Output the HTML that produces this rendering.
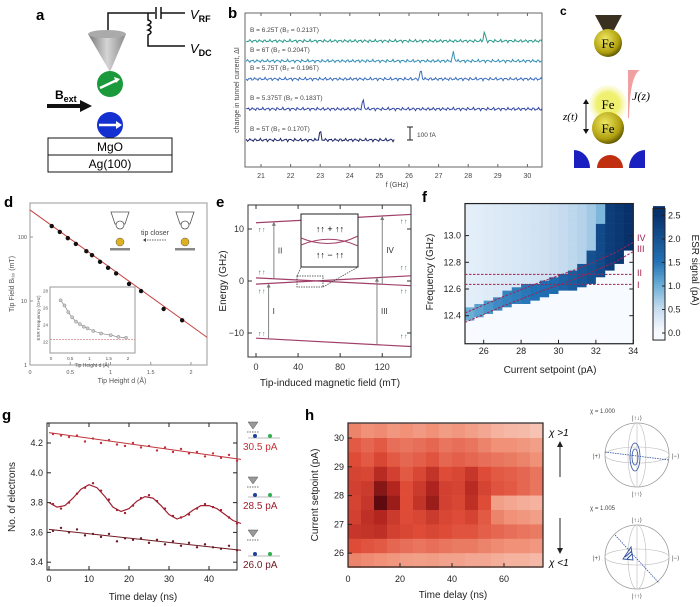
<!DOCTYPE html>
<html><head><meta charset="utf-8"><style>
html,body{margin:0;padding:0;background:#fff}
svg{display:block;font-family:"Liberation Sans",sans-serif}
</style></head><body>
<svg id="fig" width="700" height="607" viewBox="0 0 700 607" xmlns="http://www.w3.org/2000/svg">
<!-- Panel a -->
<g>
<text x="36" y="20" font-size="15" font-weight="bold">a</text>
<polyline points="108,35 108,13 155,13" fill="none" stroke="#111" stroke-width="1.5"/>
<line x1="156" y1="7" x2="156" y2="19" stroke="#111" stroke-width="1.5"/>
<line x1="161" y1="7" x2="161" y2="19" stroke="#111" stroke-width="1.5"/>
<line x1="161" y1="13" x2="185" y2="13" stroke="#111" stroke-width="1.5"/>
<path d="M148,13 L148,20 q6,2 0,5 q6,2 0,5 q6,2 0,5 L148,46 L185,46" fill="none" stroke="#111" stroke-width="1.5"/>
<text x="190" y="19" font-size="13" font-style="italic">V<tspan font-size="9" font-style="normal" font-weight="bold" dy="3">RF</tspan></text>
<text x="190" y="53" font-size="13" font-style="italic">V<tspan font-size="9" font-style="normal" font-weight="bold" dy="3">DC</tspan></text>
<defs><linearGradient id="cone" x1="0" x2="1"><stop offset="0" stop-color="#777"/><stop offset="0.5" stop-color="#d5d5d5"/><stop offset="1" stop-color="#888"/></linearGradient>
<radialGradient id="fe" cx="0.4" cy="0.35" r="0.7"><stop offset="0" stop-color="#f0e860"/><stop offset="0.7" stop-color="#b0a010"/><stop offset="1" stop-color="#504800"/></radialGradient>
<radialGradient id="glow"><stop offset="0.6" stop-color="#f0f070"/><stop offset="1" stop-color="#f8f8c0" stop-opacity="0.3"/></radialGradient></defs>
<path d="M88,34 L110,72 L126,34 Z" fill="url(#cone)"/>
<ellipse cx="107" cy="34" rx="19" ry="4" fill="#aaa"/>
<circle cx="110" cy="84" r="13" fill="#1a9a3a"/>
<line x1="100" y1="88" x2="117" y2="80" stroke="#fff" stroke-width="2.5"/><path d="M120,79 l-6,-2 l2,6z" fill="#fff"/>
<text x="55" y="99" font-size="12" font-weight="bold">B<tspan font-size="9" dy="3">ext</tspan></text>
<line x1="47" y1="106" x2="82" y2="106" stroke="#111" stroke-width="4"/><path d="M80,100 L92,106 L80,112Z" fill="#111"/>
<circle cx="110" cy="125" r="13" fill="#1530d0"/>
<line x1="99" y1="125" x2="117" y2="125" stroke="#fff" stroke-width="2.5"/><path d="M116,121 l6,4 l-6,4z" fill="#fff"/>
<rect x="48" y="138" width="124" height="17" fill="#fff" stroke="#111"/>
<rect x="48" y="155" width="124" height="17" fill="#fff" stroke="#111"/>
<text x="110" y="151" font-size="12" text-anchor="middle">MgO</text>
<text x="110" y="168" font-size="12" text-anchor="middle">Ag(100)</text>
</g>
<!-- Panel c -->
<g>
<text x="560" y="15" font-size="12" font-weight="bold">c</text>
<path d="M595,15 L622,15 L614,30 L603,30Z" fill="#3a3020"/>
<circle cx="608" cy="43" r="14" fill="url(#fe)"/><text x="608" y="48" font-size="13" text-anchor="middle" font-family="Liberation Serif">Fe</text>
<path d="M628,70 L640,70 Q630,75 629,118 L628,118Z" fill="#f0a0a0"/>
<text x="632" y="100" font-size="12" font-style="italic" font-family="Liberation Serif">J(z)</text>
<circle cx="608" cy="104" r="19" fill="url(#glow)"/>
<circle cx="608" cy="128" r="16" fill="url(#fe)"/>
<text x="608" y="109" font-size="13" text-anchor="middle" font-family="Liberation Serif">Fe</text>
<text x="608" y="133" font-size="13" text-anchor="middle" font-family="Liberation Serif">Fe</text>
<line x1="586" y1="102" x2="586" y2="131" stroke="#111"/><path d="M583,104 l3,-5 l3,5z M583,129 l3,5 l3,-5z" fill="#111"/>
<text x="563" y="120" font-size="11" font-style="italic" font-family="Liberation Serif">z(t)</text>
<path d="M574,168 L574,150 A16,18 0 0 1 590,168Z" fill="#1a20c0"/>
<path d="M597,168 A13,13 0 0 1 623,168Z" fill="#c03010"/>
<path d="M645,168 L645,150 A16,18 0 0 0 629,168Z" fill="#1a20c0"/>
</g>
<g id="charts"></g>
</svg>
<script>
// ---------- Panel b data ----------
const bLabels = ["B = 6.25T (B\u2082 = 0.213T)","B = 6T (B\u2082 = 0.204T)","B = 5.75T (B\u2082 = 0.196T)","B = 5.375T (B\u2082 = 0.183T)","B = 5T (B\u2082 = 0.170T)"];
const bPeaks = [28.55, 27.5, 26.4, 24.45, 23.0];
const bOffsets = [41, 61, 79, 109, 140];
const bEnds = [30.5, 30.5, 30.5, 30.5, 25.5];
const bColors = ["#2a9a8a","#3590b8","#3b6ec0","#3348a8","#1e2668"];
const bTicks = [21,22,23,24,25,26,27,28,29,30];
// ---------- Panel d data ----------
const dHeights = [0.27,0.37,0.47,0.57,0.70,0.77,0.87,0.97,1.07,1.23,1.38,1.66,1.89];
const dFields = [148,120,96,78,60,52,41,33,27,18.5,14.3,7.5,5.0];
const dFitEnds = [[0,265],[2.2,2.7]];
const dInsetH = [0.25,0.35,0.45,0.55,0.65,0.75,0.85,0.95,1.1,1.3,1.55,1.75,1.95];
const dInsetF = [26.9,26.3,25.5,24.9,24.4,24.1,23.8,23.6,23.3,23.0,22.8,22.6,22.5];
// ---------- Panel e data ----------
const eFieldEnds = [0,147];
const eLevelTop = [11.2, 12.8];
const eLevelMidA = [0.6, -0.9];
const eLevelMidB = [-0.6, 1.0];
const eLevelBot = [-11.0, -12.6];
const eXTicks = [0,40,80,120];
const eYTicks = [-10,0,10];
// ---------- Panel f data ----------
const fCurrents = [25.25,25.75,26.25,26.75,27.25,27.75,28.25,28.75,29.25,29.75,30.25,30.75,31.25,31.75,32.25,32.75,33.25,33.75];
const fBandLow = [12.36,12.38,12.41,12.43,12.46,12.48,12.50,12.52,12.54,12.56,12.58,12.60,12.62,12.64,12.70,12.74,12.80,12.88];
const fBandHigh = [12.47,12.49,12.52,12.55,12.58,12.61,12.63,12.65,12.67,12.69,12.71,12.73,12.80,12.90,13.10,13.30,13.30,13.30];
const fPeak = [1.0,1.1,1.2,1.3,1.35,1.4,1.45,1.5,1.55,1.6,1.7,1.8,1.9,2.0,2.1,2.3,2.4,2.5];
const fBg = [0.2,0.22,0.25,0.28,0.3,0.32,0.35,0.38,0.4,0.45,0.5,0.55,0.6,0.7,0.9,1.2,1.6,2.0];
const fCurveX = [25,27,29,31,33,34];
const fCurveIII = [12.35,12.47,12.58,12.68,12.80,12.88];
const fCurveIV = [12.42,12.54,12.65,12.75,12.87,12.95];
const fLevelI = 12.635, fLevelII = 12.71;
const fXTicks = [26,28,30,32,34];
const fYTicks = [12.4,12.6,12.8,13.0];
const fCbTicks = [0.0,0.5,1.0,1.5,2.0,2.5];
// ---------- Panel g data ----------
const gTimes = [1,3,5,7,9,11,13,15,17,19,21,23,25,27,29,31,33,35,37,39,41,43,45,47];
const gTop = [4.26,4.25,4.24,4.25,4.21,4.23,4.20,4.22,4.19,4.18,4.20,4.17,4.18,4.15,4.17,4.14,4.16,4.13,4.14,4.11,4.13,4.10,4.12,4.08];
const gMid = [3.79,3.76,3.80,3.86,3.90,3.93,3.88,3.82,3.75,3.73,3.78,3.83,3.85,3.81,3.76,3.71,3.70,3.72,3.76,3.79,3.77,3.75,3.70,3.66];
const gBot = [3.61,3.63,3.60,3.62,3.58,3.59,3.57,3.59,3.54,3.56,3.55,3.56,3.53,3.55,3.52,3.54,3.51,3.53,3.50,3.52,3.50,3.49,3.51,3.48];
const gFitTimes = [0,2,4,6,8,10,12,14,16,18,20,22,24,26,28,30,32,34,36,38,40,42,44,46,48];
const gFitMid = [3.80,3.77,3.78,3.83,3.89,3.92,3.90,3.84,3.77,3.74,3.76,3.81,3.84,3.83,3.78,3.72,3.69,3.71,3.75,3.78,3.78,3.76,3.72,3.68,3.66];
const gFitTop = [4.27,4.09];
const gFitBot = [3.62,3.48];
const gXTicks = [0,10,20,30,40];
const gYTicks = [3.4,3.6,3.8,4.0,4.2];
const gLegend = ["30.5 pA","28.5 pA","26.0 pA"];
// ---------- Panel h data ----------
const hSetpoints = [30.25,29.75,29.25,28.75,28.25,27.75,27.25,26.75,26.25,25.75];
const hTimes = [0,5,10,15,20,25,30,35,40,45,50,55,60,65,70];
const hValues = [
 [0.35,0.30,0.32,0.28,0.30,0.27,0.30,0.26,0.28,0.25,0.22,0.18,0.16,0.15,0.12],
 [0.50,0.45,0.50,0.42,0.40,0.42,0.45,0.40,0.42,0.40,0.35,0.30,0.30,0.28,0.25],
 [0.55,0.50,0.58,0.50,0.45,0.48,0.52,0.45,0.48,0.45,0.42,0.40,0.38,0.35,0.30],
 [0.60,0.58,0.75,0.62,0.50,0.58,0.70,0.55,0.58,0.68,0.55,0.50,0.48,0.45,0.40],
 [0.62,0.65,0.90,0.78,0.55,0.65,0.80,0.62,0.60,0.75,0.60,0.52,0.50,0.45,0.40],
 [0.60,0.68,1.00,0.85,0.55,0.70,0.85,0.62,0.58,0.72,0.55,0.25,0.22,0.20,0.18],
 [0.62,0.72,0.78,0.65,0.55,0.58,0.65,0.58,0.55,0.60,0.50,0.35,0.30,0.28,0.25],
 [0.68,0.70,0.72,0.62,0.58,0.55,0.58,0.55,0.52,0.52,0.48,0.45,0.42,0.40,0.38],
 [0.55,0.52,0.50,0.45,0.42,0.40,0.42,0.40,0.38,0.38,0.35,0.32,0.30,0.30,0.28],
 [0.35,0.32,0.30,0.28,0.26,0.25,0.26,0.24,0.24,0.22,0.22,0.20,0.18,0.18,0.16]];
const hXTicks = [0,20,40,60];
const hYTicks = [26,27,28,29,30];

const NS = "http://www.w3.org/2000/svg";
const root = document.getElementById('charts');
function mk(tag, attrs, parent, txt){
  const e = document.createElementNS(NS, tag);
  for (const k in attrs) e.setAttribute(k, attrs[k]);
  if (txt !== undefined) e.textContent = txt;
  (parent || root).appendChild(e);
  return e;
}
function grp(name){ const g = mk('g', {});   return g; }
function toRgb(c){ return 'rgb('+c.join(',')+')'; }
function lerpC(stops, v){
  if (v <= stops[0][0]) return toRgb(stops[0][1]);
  for (let i=1;i<stops.length;i++){ if (v <= stops[i][0]){ const a=stops[i-1], b=stops[i]; const t=(v-a[0])/(b[0]-a[0]);
    return 'rgb('+a[1].map((c,j)=>Math.round(c+(b[1][j]-c)*t)).join(',')+')'; } }
  return toRgb(stops[stops.length-1][1]);
}

// ===== Panel b =====
(function(){
  const g = grp('panel-b');
  mk('text', {x:228, y:18, 'font-size':15, 'font-weight':'bold'}, g, 'b');
  const x = f => 261 + (f-21)*29.6;
  mk('rect', {x:245, y:13, width:297, height:154, fill:'none', stroke:'#666'}, g);
  bTicks.forEach(t => {
    mk('line', {x1:x(t), x2:x(t), y1:167, y2:164, stroke:'#666'}, g);
    mk('line', {x1:x(t), x2:x(t), y1:13, y2:16, stroke:'#666'}, g);
    const tl = mk('text', {x:x(t), y:178, 'font-size':7, 'text-anchor':'middle', fill:'#444'}, g, String(t));
    
    
  });
  mk('text', {x:397, y:187, 'font-size':7, 'text-anchor':'middle', fill:'#444'}, g, 'f (GHz)');
  mk('text', {x:0, y:0, 'font-size':7, 'text-anchor':'middle', fill:'#444', transform:'translate(239,90) rotate(-90)'}, g, 'change in tunnel current, \u0394I');
  bLabels.forEach((lab, i) => {
    let d = '';
    for (let f = 20.5; f <= bEnds[i]; f += 0.04) {
      const n = Math.sin(f*37.1+i*3)*1.0 + Math.sin(f*91.7+i)*0.7;
      let yy = bOffsets[i] + n - 9*Math.exp(-Math.pow((f-bPeaks[i])/0.04,2));
      d += (d ? 'L' : 'M') + x(f).toFixed(1) + ',' + yy.toFixed(1);
    }
    const p = mk('path', {d: d, fill:'none', stroke:bColors[i], 'stroke-width':1}, g);
    
    
    mk('text', {x:250, y:bOffsets[i]-9, 'font-size':6.5, fill:'#444'}, g, lab);
  });
  mk('path', {d:'M407,127 L413,127 M410,127 L410,140 M407,140 L413,140', stroke:'#222', fill:'none'}, g);
  mk('text', {x:417, y:137, 'font-size':6.5, fill:'#444'}, g, '100 fA');
})();

// ===== Panel d =====
(function(){
  const g = grp('panel-d');
  mk('text', {x:4, y:207, 'font-size':15, 'font-weight':'bold'}, g, 'd');
  const x = h => 30 + h*80.5;
  const y = b => 365 - Math.log10(b)*64;
  mk('rect', {x:30, y:203, width:177, height:162, fill:'none', stroke:'#999'}, g);
  [0,0.5,1,1.5,2].forEach(t => {
    mk('line', {x1:x(t), x2:x(t), y1:365, y2:362, stroke:'#999'}, g);
    mk('text', {x:x(t), y:374, 'font-size':5.5, 'text-anchor':'middle', fill:'#555'}, g, String(t));
  });
  [[1,'1'],[10,'10'],[100,'100']].forEach(([v,l]) => {
    mk('line', {x1:30, x2:33, y1:y(v), y2:y(v), stroke:'#999'}, g);
    mk('text', {x:27, y:y(v)+2, 'font-size':5.5, 'text-anchor':'end', fill:'#555'}, g, l);
  });
  mk('text', {x:122, y:383, 'font-size':7, 'text-anchor':'middle', fill:'#555'}, g, 'Tip Height d (\u00C5)');
  mk('text', {x:0, y:0, 'font-size':7, 'text-anchor':'middle', fill:'#555', transform:'translate(14,284) rotate(-90)'}, g, 'Tip Field B\u209C\u1D62\u209A (mT)');
  const fit = mk('line', {x1:x(dFitEnds[0][0]), y1:y(dFitEnds[0][1]), x2:x(dFitEnds[1][0]), y2:y(dFitEnds[1][1]), stroke:'#c84040', 'stroke-width':1}, g);
  
  
  dHeights.forEach((h,i) => {
    const c = mk('circle', {cx:x(h), cy:y(dFields[i]), r:2.2, fill:'#111'}, g);
    
    
  });
  [[120,222],[185,222]].forEach(([cx,cy]) => {
    mk('path', {d:`M${cx-9},${cy-10} L${cx+9},${cy-10} L${cx+5},${cy+2} L${cx-5},${cy+2}Z`, fill:'#fff', stroke:'#555', 'stroke-width':0.8}, g);
    mk('circle', {cx:cx, cy:cy+3, r:4, fill:'#fff', stroke:'#555', 'stroke-width':0.8}, g);
    mk('circle', {cx:cx, cy:cy+20, r:4, fill:'#e0b020', stroke:'#555', 'stroke-width':0.5}, g);
    mk('rect', {x:cx-10, y:cy+26, width:20, height:2.5, fill:'#888'}, g);
  });
  mk('text', {x:155, y:235, 'font-size':7, 'text-anchor':'middle', fill:'#444'}, g, 'tip closer');
  mk('line', {x1:166, x2:146, y1:240, y2:240, stroke:'#666', 'stroke-dasharray':'1.5,1'}, g);
  mk('path', {d:'M146,238 l-3,2 l3,2z', fill:'#444'}, g);
  const ix = h => 51 + h*38.5;
  const iy = f => 291 + (28-f)*8.5;
  mk('rect', {x:50, y:287, width:85, height:66, fill:'#fff', stroke:'#999'}, g);
  [[0,'0'],[0.5,'0.5'],[1,'1'],[1.5,'1.5'],[2,'2']].forEach(([v,l]) => mk('text', {x:ix(v), y:360, 'font-size':4.5, 'text-anchor':'middle', fill:'#555'}, g, l));
  [22,24,26,28].forEach(v => mk('text', {x:48, y:iy(v)+1.5, 'font-size':4.5, 'text-anchor':'end', fill:'#555'}, g, String(v)));
  mk('text', {x:92, y:367, 'font-size':5, 'text-anchor':'middle', fill:'#555'}, g, 'Tip Height d (\u00C5)');
  mk('text', {x:0, y:0, 'font-size':4.5, 'text-anchor':'middle', fill:'#555', transform:'translate(40,318) rotate(-90)'}, g, 'ESR Frequency (GHz)');
  mk('line', {x1:50, x2:135, y1:iy(22.3), y2:iy(22.3), stroke:'#d07070', 'stroke-dasharray':'2,1', 'stroke-width':0.6}, g);
  mk('path', {d:'M'+dInsetH.map((h,i)=>ix(h).toFixed(1)+','+iy(dInsetF[i]).toFixed(1)).join('L'), fill:'none', stroke:'#777', 'stroke-width':0.6}, g);
  dInsetH.forEach((h,i) => {
    const c = mk('circle', {cx:ix(h), cy:iy(dInsetF[i]), r:1.6, fill:'#ccc', stroke:'#777', 'stroke-width':0.4}, g);
    
    
  });
})();

// ===== Panel e =====
(function(){
  const g = grp('panel-e');
  mk('text', {x:216, y:207, 'font-size':15, 'font-weight':'bold'}, g, 'e');
  const x = b => 256 + b*1.052;
  const y = e => 281 - e*5.2;
  mk('rect', {x:248, y:205, width:163, height:152, fill:'none', stroke:'#333'}, g);
  eXTicks.forEach(t => {
    mk('line', {x1:x(t), x2:x(t), y1:357, y2:353, stroke:'#333'}, g);
    mk('line', {x1:x(t), x2:x(t), y1:205, y2:209, stroke:'#333'}, g);
    mk('text', {x:x(t), y:370, 'font-size':9, 'text-anchor':'middle', fill:'#333'}, g, String(t));
  });
  eYTicks.forEach(t => {
    mk('line', {x1:248, x2:252, y1:y(t), y2:y(t), stroke:'#333'}, g);
    mk('line', {x1:411, x2:407, y1:y(t), y2:y(t), stroke:'#333'}, g);
    mk('text', {x:244, y:y(t)+3, 'font-size':9, 'text-anchor':'end', fill:'#333'}, g, t<0 ? '\u2212'+(-t) : String(t));
  });
  mk('text', {x:330, y:386, 'font-size':10, 'text-anchor':'middle', fill:'#222'}, g, 'Tip-induced magnetic field (mT)');
  mk('text', {x:0, y:0, 'font-size':10, 'text-anchor':'middle', fill:'#222', transform:'translate(226,281) rotate(-90)'}, g, 'Energy (GHz)');
  [eLevelTop, eLevelMidA, eLevelMidB, eLevelBot].forEach(lv => {
    const l = mk('line', {x1:x(eFieldEnds[0]), y1:y(lv[0]), x2:x(eFieldEnds[1]), y2:y(lv[1]), stroke:'#a0406a', 'stroke-width':1.2}, g);
    
    
  });
  const lvAt = (lv,b) => lv[0] + (lv[1]-lv[0])*(b-eFieldEnds[0])/(eFieldEnds[1]-eFieldEnds[0]);
  const arrows = [[12, eLevelBot, eLevelMidB, 'I'],[17, eLevelMidA, eLevelTop, 'II'],[115, eLevelBot, eLevelMidB, 'III'],[120, eLevelMidA, eLevelTop, 'IV']];
  arrows.forEach(([b, lo, hi, lab]) => {
    const y1 = y(lvAt(lo,b)), y2 = y(lvAt(hi,b));
    mk('line', {x1:x(b), x2:x(b), y1:y1, y2:y2+3, stroke:'#777', 'stroke-width':0.9}, g);
    mk('path', {d:`M${x(b)-2},${y2+4} l2,-4 l2,4z`, fill:'#777'}, g);
    mk('text', {x:x(b)+4, y:(y1+y2)/2+3, 'font-size':8, fill:'#333'}, g, lab);
  });
  [[258,y(10)],[258,y(1.8)],[258,y(-1.8)],[258,y(-10)],[400,y(11.6)],[400,y(2.7)],[400,y(-1.8)],[400,y(-10.5)]].forEach(([sx,sy]) => {
    mk('text', {x:sx, y:sy+3, 'font-size':7, fill:'#2050b0'}, g, '\u2191');
    mk('text', {x:sx+4, y:sy+3, 'font-size':7, fill:'#20a040'}, g, '\u2191');
  });
  mk('rect', {x:297, y:276, width:26, height:11, fill:'none', stroke:'#333', 'stroke-dasharray':'1.5,1', 'stroke-width':0.8}, g);
  mk('line', {x1:297, y1:276, x2:301, y2:267, stroke:'#333', 'stroke-dasharray':'1.5,1', 'stroke-width':0.7}, g);
  mk('line', {x1:323, y1:287, x2:358, y2:267, stroke:'#333', 'stroke-dasharray':'1.5,1', 'stroke-width':0.7}, g);
  mk('rect', {x:301, y:214, width:57, height:53, fill:'#fff', stroke:'#222', 'stroke-width':1}, g);
  mk('path', {d:'M301,238 Q330,250 358,236 M301,245 Q330,233 358,246', fill:'none', stroke:'#a0406a', 'stroke-width':1}, g);
  mk('text', {x:330, y:232, 'font-size':9, 'text-anchor':'middle'}, g, '\u2191\u2191 + \u2191\u2191');
  mk('text', {x:330, y:258, 'font-size':9, 'text-anchor':'middle'}, g, '\u2191\u2191 \u2212 \u2191\u2191');
})();

// ===== Panel f =====
(function(){
  const g = grp('panel-f');
  mk('text', {x:422, y:202, 'font-size':15, 'font-weight':'bold'}, g, 'f');
  const x = c => 465 + (c-25)*18.7;
  const y = f => 289 - (f-12.6)*133.5;
  const cstops = [[0,[247,251,255]],[0.5,[198,219,239]],[1.0,[107,174,214]],[1.5,[33,113,181]],[2.5,[8,48,107]]];
  const fTop = 13.24, fBot = 12.19, step = 0.025;
  fCurrents.forEach((c,i) => {
    for (let f = fBot; f < fTop - 1e-9; f += step) {
      const fc = f + step/2;
      const v = fc < fBandLow[i] ? 0 : (fc < fBandHigh[i] ? fPeak[i] : fBg[i]);
      const r = mk('rect', {x:x(c-0.25), y:y(f+step), width:18.7*0.5+0.3, height:133.5*step+0.3, fill:lerpC(cstops, v)}, g);
      
      
    }
  });
  mk('rect', {x:465, y:y(fTop), width:x(34)-465, height:y(fBot)-y(fTop), fill:'none', stroke:'#222', 'stroke-width':1.2}, g);
  const dash = {fill:'none', stroke:'#a02050', 'stroke-width':1, 'stroke-dasharray':'2.5,1.5'};
  [fCurveIII, fCurveIV].forEach(cv => mk('path', Object.assign({d:'M'+fCurveX.map((c,i)=>x(c).toFixed(1)+','+y(cv[i]).toFixed(1)).join('L')}, dash), g));
  [fLevelI, fLevelII].forEach(lv => mk('line', Object.assign({x1:465, x2:x(34), y1:y(lv), y2:y(lv)}, dash), g));
  [['IV',238],['III',249],['II',273],['I',285]].forEach(([l,yy]) => mk('text', {x:637, y:yy+3, 'font-size':9, fill:'#a02050'}, g, l));
  fXTicks.forEach(t => {
    mk('line', {x1:x(t), x2:x(t), y1:y(fBot), y2:y(fBot)-4, stroke:'#222'}, g);
    mk('text', {x:x(t), y:354, 'font-size':9, 'text-anchor':'middle', fill:'#222'}, g, String(t));
  });
  fYTicks.forEach(t => {
    mk('line', {x1:465, x2:469, y1:y(t), y2:y(t), stroke:'#222'}, g);
    mk('line', {x1:x(34), x2:x(34)-4, y1:y(t), y2:y(t), stroke:'#222'}, g);
    mk('text', {x:461, y:y(t)+3, 'font-size':9, 'text-anchor':'end', fill:'#222'}, g, t.toFixed(1));
  });
  mk('text', {x:550, y:373, 'font-size':10, 'text-anchor':'middle', fill:'#222'}, g, 'Current setpoint (pA)');
  mk('text', {x:0, y:0, 'font-size':10, 'text-anchor':'middle', fill:'#222', transform:'translate(433,272) rotate(-90)'}, g, 'Frequency (GHz)');
  const cy = v => 333 - v*47;
  for (let v = -0.15; v < 2.65; v += 0.05) mk('rect', {x:653, y:cy(v+0.05), width:12, height:47*0.05+0.3, fill:lerpC(cstops, v)}, g);
  mk('rect', {x:653, y:cy(2.65), width:12, height:cy(-0.15)-cy(2.65), fill:'none', stroke:'#222'}, g);
  fCbTicks.forEach(t => {
    mk('line', {x1:665, x2:662, y1:cy(t), y2:cy(t), stroke:'#222'}, g);
    mk('text', {x:668, y:cy(t)+3, 'font-size':9, fill:'#222'}, g, t.toFixed(1));
  });
  mk('text', {x:0, y:0, 'font-size':10, 'text-anchor':'middle', fill:'#222', transform:'translate(692,270) rotate(90)'}, g, 'ESR signal (pA)');
})();

// ===== Panel g =====
(function(){
  const g = grp('panel-g');
  mk('text', {x:2, y:420, 'font-size':15, 'font-weight':'bold'}, g, 'g');
  const x = t => 49 + t*4.0;
  const y = v => 443 + (4.2-v)*149;
  mk('rect', {x:47, y:423, width:190, height:147, fill:'none', stroke:'#222'}, g);
  gXTicks.forEach(t => {
    mk('line', {x1:x(t), x2:x(t), y1:570, y2:566, stroke:'#222'}, g);
    mk('line', {x1:x(t), x2:x(t), y1:423, y2:427, stroke:'#222'}, g);
    mk('text', {x:x(t), y:582, 'font-size':9, 'text-anchor':'middle', fill:'#222'}, g, String(t));
  });
  gYTicks.forEach(t => {
    mk('line', {x1:47, x2:51, y1:y(t), y2:y(t), stroke:'#222'}, g);
    mk('line', {x1:237, x2:233, y1:y(t), y2:y(t), stroke:'#222'}, g);
    mk('text', {x:43, y:y(t)+3, 'font-size':9, 'text-anchor':'end', fill:'#222'}, g, t.toFixed(1));
  });
  mk('text', {x:143, y:600, 'font-size':10, 'text-anchor':'middle', fill:'#222'}, g, 'Time delay (ns)');
  mk('text', {x:0, y:0, 'font-size':10, 'text-anchor':'middle', fill:'#222', transform:'translate(15,497) rotate(-90)'}, g, 'No. of electrons');
  const cols = ['#c0333a','#a02030','#6e1a22'];
  const tEnd = gFitTimes[gFitTimes.length-1];
  [[gFitTop,0],[gFitBot,2]].forEach(([f,ci]) => mk('line', {x1:x(0), y1:y(f[0]), x2:x(tEnd), y2:y(f[1]), stroke:cols[ci], 'stroke-width':1}, g));
  mk('path', {d:'M'+gFitTimes.map((t,i)=>x(t).toFixed(1)+','+y(gFitMid[i]).toFixed(1)).join('L'), fill:'none', stroke:cols[1], 'stroke-width':1.2}, g);
  [gTop, gMid, gBot].forEach((s,si) => s.forEach((v,i) => {
    const c = mk('circle', {cx:x(gTimes[i]), cy:y(v), r:1.2, fill:cols[si]}, g);
    
    
  }));
  [[425,447],[480,506],[533,565]].forEach(([ty,ly],i) => {
    mk('path', {d:`M248,${ty-3} L258,${ty-3} L253,${ty+4}Z`, fill:'#999', stroke:'#555', 'stroke-width':0.5}, g);
    mk('line', {x1:247, x2:259, y1:ty+7, y2:ty+7, stroke:'#444', 'stroke-dasharray':'1.5,1', 'stroke-width':0.7}, g);
    mk('line', {x1:248, x2:280, y1:ly-9, y2:ly-9, stroke:'#bbb', 'stroke-width':1}, g);
    mk('circle', {cx:255, cy:ly-11, r:2, fill:'#2040a0'}, g);
    mk('circle', {cx:270, cy:ly-11, r:2, fill:'#30b050'}, g);
    const t = mk('text', {x:243, y:ly+3, 'font-size':10, fill:cols[i]}, g, gLegend[i]);
    
    
  });
})();

// ===== Panel h =====
(function(){
  const g = grp('panel-h');
  mk('text', {x:305, y:420, 'font-size':15, 'font-weight':'bold'}, g, 'h');
  const x = t => 348 + t*2.6;
  const y = s => 438 + (30-s)*28.8;
  const hs = [[0,[250,228,218]],[0.3,[240,145,120]],[0.55,[222,75,55]],[0.8,[175,35,30]],[1,[95,10,15]]];
  hSetpoints.forEach((s,ri) => hTimes.forEach((t,ci) => {
    const r = mk('rect', {x:x(t), y:y(s+0.25), width:13.3, height:14.7, fill:lerpC(hs, hValues[ri][ci])}, g);
    
    
  }));
  mk('rect', {x:348, y:423, width:195, height:144, fill:'none', stroke:'#222', 'stroke-width':1.2}, g);
  hXTicks.forEach(t => {
    mk('line', {x1:x(t), x2:x(t), y1:567, y2:563, stroke:'#222'}, g);
    mk('text', {x:x(t), y:582, 'font-size':9, 'text-anchor':'middle', fill:'#222'}, g, String(t));
  });
  hYTicks.forEach(t => {
    mk('line', {x1:348, x2:352, y1:y(t), y2:y(t), stroke:'#222'}, g);
    mk('text', {x:344, y:y(t)+3, 'font-size':9, 'text-anchor':'end', fill:'#222'}, g, String(t));
  });
  mk('text', {x:453, y:598, 'font-size':10, 'text-anchor':'middle', fill:'#222'}, g, 'Time delay (ns)');
  mk('text', {x:0, y:0, 'font-size':10, 'text-anchor':'middle', fill:'#222', transform:'translate(318,495) rotate(-90)'}, g, 'Current setpoint (pA)');
  mk('text', {x:549, y:436, 'font-size':10, 'font-style':'italic'}, g, '\u03C7 >1');
  mk('text', {x:549, y:566, 'font-size':10, 'font-style':'italic'}, g, '\u03C7 <1');
  mk('line', {x1:560, x2:560, y1:477, y2:446, stroke:'#222', 'stroke-width':1}, g);
  mk('path', {d:'M557,447 l3,-6 l3,6z', fill:'#222'}, g);
  mk('line', {x1:560, x2:560, y1:518, y2:549, stroke:'#222', 'stroke-width':1}, g);
  mk('path', {d:'M557,548 l3,6 l3,-6z', fill:'#222'}, g);
  [[637,455,'\u03C7 = 1.000',413],[637,557,'\u03C7 = 1.005',510]].forEach(([cx,cy,lab,ly],k) => {
    mk('circle', {cx:cx, cy:cy, r:32, fill:'none', stroke:'#999', 'stroke-width':0.8}, g);
    mk('ellipse', {cx:cx, cy:cy, rx:32, ry:8, fill:'none', stroke:'#bbb', 'stroke-width':0.6}, g);
    mk('ellipse', {cx:cx, cy:cy, rx:9, ry:32, fill:'none', stroke:'#bbb', 'stroke-width':0.6}, g);
    mk('line', {x1:cx, x2:cx, y1:cy-32, y2:cy+32, stroke:'#bbb', 'stroke-width':0.6}, g);
    mk('text', {x:cx-44, y:cy+3, 'font-size':6, fill:'#444'}, g, '|+\u27E9');
    mk('text', {x:cx+35, y:cy+3, 'font-size':6, fill:'#444'}, g, '|\u2212\u27E9');
    mk('text', {x:cx, y:cy-35, 'font-size':6, 'text-anchor':'middle', fill:'#444'}, g, '|\u2191\u2193\u27E9');
    mk('text', {x:cx, y:cy+41, 'font-size':6, 'text-anchor':'middle', fill:'#444'}, g, '|\u2191\u2191\u27E9');
    mk('text', {x:590, y:ly, 'font-size':6, fill:'#444'}, g, lab);
    if (k === 0) {
      mk('line', {x1:cx-32, y1:cy-3, x2:cx+32, y2:cy+5, stroke:'#3050a0', 'stroke-dasharray':'1.5,1', 'stroke-width':0.8}, g);
      mk('ellipse', {cx:cx-2, cy:cy+2, rx:5, ry:14, fill:'none', stroke:'#3050a0', 'stroke-width':0.8}, g);
      mk('ellipse', {cx:cx-2, cy:cy+2, rx:3, ry:8, fill:'none', stroke:'#3050a0', 'stroke-width':0.8}, g);
    } else {
      mk('line', {x1:cx-22, y1:cy-22, x2:cx+22, y2:cy+26, stroke:'#3050a0', 'stroke-dasharray':'1.5,1', 'stroke-width':0.8}, g);
      mk('path', {d:`M${cx-14},${cy+2} L${cx-6},${cy-10} L${cx-4},${cy+3}Z M${cx-12},${cy} L${cx-5},${cy-6} M${cx-10},${cy+2} L${cx-5},${cy-3}`, fill:'none', stroke:'#3050a0', 'stroke-width':0.9}, g);
    }
  });
})();
</script>
</body></html>
